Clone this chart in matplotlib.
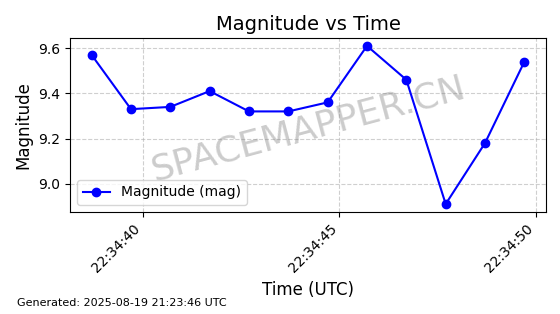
import numpy as np
import pandas as pd
import matplotlib
matplotlib.use("Agg")
import matplotlib.pyplot as plt
import matplotlib.dates as mdates

# observation times (UTC) and magnitudes
times = pd.to_datetime([
    "2025-08-19 22:34:38.7", "2025-08-19 22:34:39.7", "2025-08-19 22:34:40.7",
    "2025-08-19 22:34:41.7", "2025-08-19 22:34:42.7", "2025-08-19 22:34:43.7",
    "2025-08-19 22:34:44.7", "2025-08-19 22:34:45.7", "2025-08-19 22:34:46.7",
    "2025-08-19 22:34:47.7", "2025-08-19 22:34:48.7", "2025-08-19 22:34:49.7",
])
mag = [9.57, 9.33, 9.34, 9.41, 9.32, 9.32, 9.36, 9.61, 9.46, 8.91, 9.18, 9.54]

fig, ax = plt.subplots(figsize=(5.6, 3.14), dpi=100)
fig.subplots_adjust(left=0.125, right=0.975, top=0.879, bottom=0.325)

ax.plot(times, mag, marker='o', color='blue', label='Magnitude (mag)')
ax.set_title("Magnitude vs Time", fontsize=14)
ax.set_xlabel("Time (UTC)", fontsize=12)
ax.set_ylabel("Magnitude", fontsize=12)
ax.grid(True, linestyle='--', alpha=0.6)
ax.legend(loc='lower left')

ax.xaxis.set_major_locator(mdates.SecondLocator(bysecond=range(0, 60, 5)))
ax.xaxis.set_major_formatter(mdates.DateFormatter('%H:%M:%S'))
plt.setp(ax.get_xticklabels(), rotation=45, ha='right')

# watermark
ax.text(0.5, 0.48, "SPACEMAPPER.CN", transform=ax.transAxes, fontsize=26,
        color='gray', alpha=0.4, rotation=15, ha='center', va='center')

fig.text(0.03, 0.025, "Generated: 2025-08-19 21:23:46 UTC", fontsize=8)

fig.savefig("out.png", dpi=100)
